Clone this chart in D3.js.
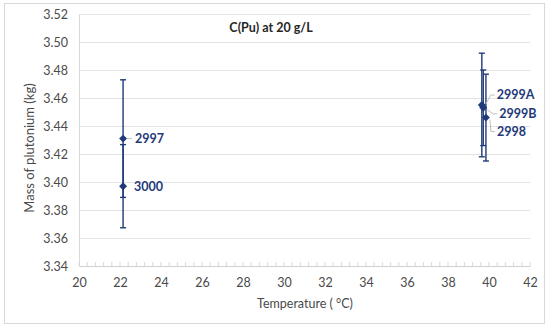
<!DOCTYPE html>
<html>
<head>
<meta charset="utf-8">
<script src="https://cdn.jsdelivr.net/npm/d3@7"></script>
<style>
  body { margin: 0; background: #fff; }
  text { font-family: Lato, "Open Sans", sans-serif; }
</style>
</head>
<body>
<div id="chart"></div>
<script>
// Data
const sampleNames = ["2997", "3000", "2999A", "2999B", "2998"];
const temperatures = [22.15, 22.15, 39.65, 39.72, 39.85];
const masses = [3.431, 3.397, 3.455, 3.453, 3.446];
const errors = [0.042, 0.0297, 0.037, 0.027, 0.031];
const xTicks = [20, 22, 24, 26, 28, 30, 32, 34, 36, 38, 40, 42];
const yTicks = [3.34, 3.36, 3.38, 3.40, 3.42, 3.44, 3.46, 3.48, 3.50, 3.52];

const points = sampleNames.map((name, i) => ({
  name: name, t: temperatures[i], m: masses[i], err: errors[i]
}));

const W = 550, H = 329;
const margin = { top: 14, right: 20, bottom: 63, left: 79 };
const width = W - margin.left - margin.right;
const height = H - margin.top - margin.bottom;
const blue = "#1f3a78";
const textGrey = "#4a4a4a";

const svg = d3.select("#chart").append("svg")
  .attr("width", W)
  .attr("height", H);

// chart border
svg.append("rect")
  .attr("x", 4.5).attr("y", 3.5)
  .attr("width", 540).attr("height", 320)
  .attr("fill", "#fff")
  .attr("stroke", "#d9d9d9");

const g = svg.append("g")
  .attr("transform", `translate(${margin.left},${margin.top})`);

// Scales
const x = d3.scaleLinear().domain([20, 42]).range([0, width]);
const y = d3.scaleLinear().domain([3.34, 3.52]).range([height, 0]);

// gridlines
g.append("g")
  .selectAll("line")
  .data(yTicks.slice(1))
  .join("line")
  .attr("x1", 0).attr("x2", width)
  .attr("y1", d => Math.round(y(d)) + 0.5)
  .attr("y2", d => Math.round(y(d)) + 0.5)
  .attr("stroke", "#e3e3e3")
  .attr("stroke-width", 1.2);

// y axis (labels only + line)
const yAxis = g.append("g")
  .call(d3.axisLeft(y).tickValues(yTicks).tickSize(0).tickPadding(11).tickFormat(d3.format(".2f")));
yAxis.select(".domain").attr("stroke", "#d9d9d9");
yAxis.selectAll("text").attr("fill", textGrey).style("font-size", "12.5px");

// x axis with minor ticks pointing up
const minorTicks = d3.range(20, 42.001, 0.4);
g.append("g")
  .attr("transform", `translate(0,${height})`)
  .selectAll("line")
  .data(minorTicks)
  .join("line")
  .attr("x1", d => x(d)).attr("x2", d => x(d))
  .attr("y1", 0).attr("y2", -4)
  .attr("stroke", "#d9d9d9");

const xAxis = g.append("g")
  .attr("transform", `translate(0,${height})`)
  .call(d3.axisBottom(x).tickValues(xTicks).tickSize(0).tickPadding(12).tickFormat(d3.format("d")));
xAxis.select(".domain").attr("stroke", "#d0d0d0");
xAxis.selectAll("text").attr("fill", textGrey).style("font-size", "12.5px");

// Axis titles
svg.append("text")
  .attr("x", 305).attr("y", 308)
  .attr("text-anchor", "middle")
  .attr("fill", textGrey)
  .style("font-size", "12.5px")
  .text("Temperature ( °C)");

svg.append("text")
  .attr("transform", "translate(34,148) rotate(-90)")
  .attr("text-anchor", "middle")
  .attr("fill", textGrey)
  .style("font-size", "13px")
  .text("Mass of plutonium (kg)");

// Title
svg.append("text")
  .attr("x", 271).attr("y", 32)
  .attr("text-anchor", "middle")
  .attr("fill", "#262626")
  .style("font-size", "12.5px")
  .style("font-weight", "bold")
  .text("C(Pu) at 20 g/L");

// Error bars
const eb = g.append("g").selectAll("g")
  .data(points)
  .join("g")
  .attr("stroke", blue)
  .attr("stroke-width", 1.4);

eb.append("line")
  .attr("x1", d => x(d.t)).attr("x2", d => x(d.t))
  .attr("y1", d => y(d.m + d.err)).attr("y2", d => y(d.m - d.err));
eb.append("line")
  .attr("x1", d => x(d.t) - 3).attr("x2", d => x(d.t) + 3)
  .attr("y1", d => y(d.m + d.err)).attr("y2", d => y(d.m + d.err));
eb.append("line")
  .attr("x1", d => x(d.t) - 3).attr("x2", d => x(d.t) + 3)
  .attr("y1", d => y(d.m - d.err)).attr("y2", d => y(d.m - d.err));

// Markers (diamonds)
g.append("g").selectAll("path")
  .data(points)
  .join("path")
  .attr("d", d3.symbol().type(d3.symbolDiamond2).size(40))
  .attr("transform", d => `translate(${x(d.t)},${y(d.m)})`)
  .attr("fill", blue);

// Data labels, offset from their point (label anchor in px)
const labelOffset = {
  "2997": [12, 0, false],
  "3000": [11, 0, false],
  "2999A": [15, -10, true],
  "2999B": [16, 6, true],
  "2998": [11, 14, true]
};

const labels = g.append("g").selectAll("g")
  .data(points)
  .join("g")
  .attr("transform", d => `translate(${x(d.t)},${y(d.m)})`);

labels.filter(d => labelOffset[d.name][2] || d.name === "2997")
  .append("polyline")
  .attr("points", d => {
    const [dx, dy] = labelOffset[d.name];
    if (d.name === "2997") return "4,0 9,0";
    return `4,${dy > 0 ? 2 : -1} ${dx - 6},${dy} ${dx - 2},${dy}`;
  })
  .attr("fill", "none")
  .attr("stroke", "#bfbfbf")
  .attr("stroke-width", 1);

labels.append("text")
  .attr("x", d => labelOffset[d.name][0])
  .attr("y", d => labelOffset[d.name][1])
  .attr("dy", "0.35em")
  .attr("fill", blue)
  .style("font-size", "12.5px")
  .style("font-weight", "bold")
  .text(d => d.name);
</script>
</body>
</html>
